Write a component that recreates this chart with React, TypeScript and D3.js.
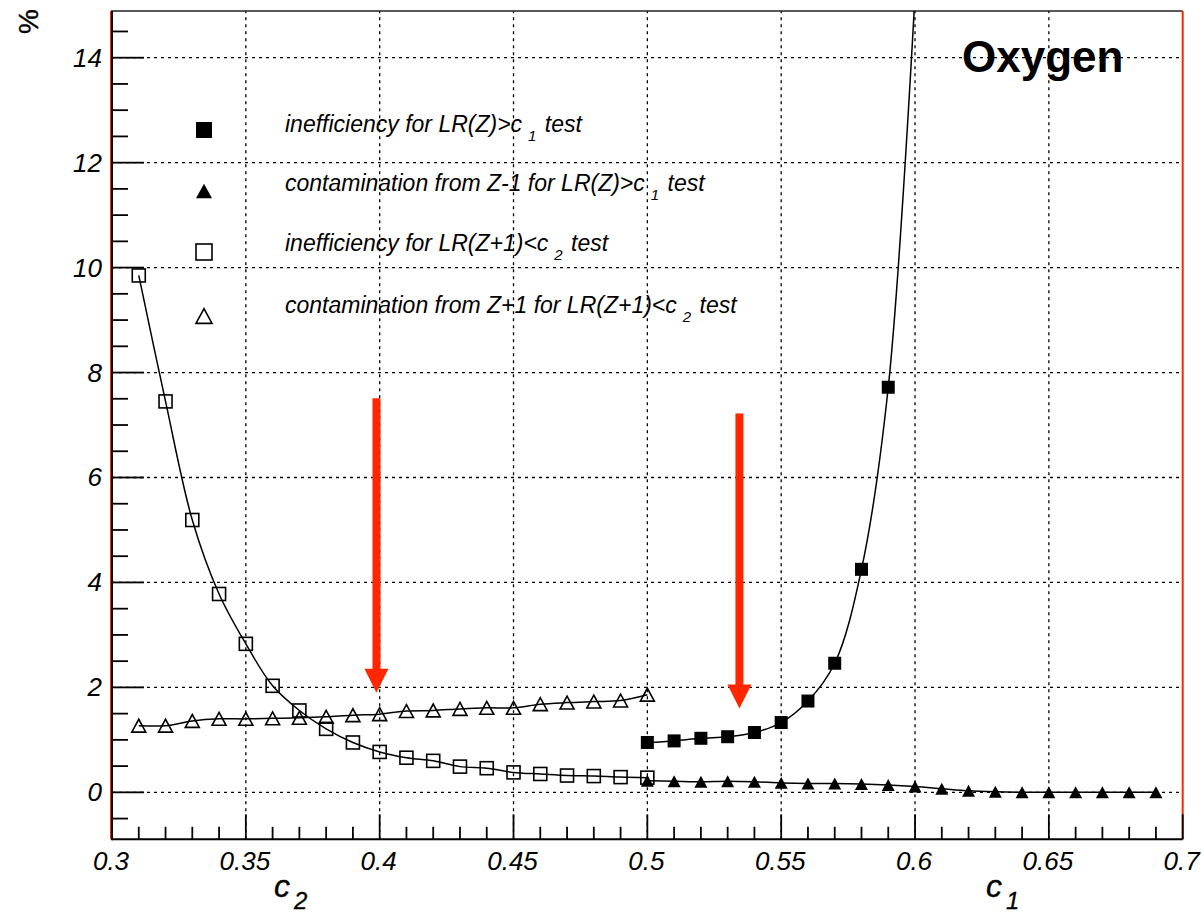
import React from "react";
import * as d3 from "d3";

// ---- data ----
const c2X = [0.31, 0.32, 0.33, 0.34, 0.35, 0.36, 0.37, 0.38, 0.39, 0.4, 0.41, 0.42, 0.43, 0.44, 0.45, 0.46, 0.47, 0.48, 0.49, 0.5];
const ineffC2 = [9.85, 7.45, 5.19, 3.78, 2.83, 2.03, 1.56, 1.21, 0.95, 0.77, 0.66, 0.6, 0.49, 0.46, 0.38, 0.35, 0.32, 0.31, 0.29, 0.28];
const contamC2 = [1.27, 1.27, 1.36, 1.4, 1.4, 1.41, 1.42, 1.44, 1.47, 1.49, 1.55, 1.56, 1.59, 1.61, 1.61, 1.68, 1.71, 1.73, 1.75, 1.86];

const c1IneffX = [0.5, 0.51, 0.52, 0.53, 0.54, 0.55, 0.56, 0.57, 0.58, 0.59, 0.6];
const ineffC1 = [0.95, 0.98, 1.03, 1.06, 1.14, 1.33, 1.74, 2.46, 4.25, 7.72, 15.2];

const c1ContX = [0.5, 0.51, 0.52, 0.53, 0.54, 0.55, 0.56, 0.57, 0.58, 0.59, 0.6, 0.61, 0.62, 0.63, 0.64, 0.65, 0.66, 0.67, 0.68, 0.69];
const contamC1 = [0.22, 0.21, 0.2, 0.21, 0.2, 0.18, 0.17, 0.17, 0.16, 0.14, 0.11, 0.07, 0.03, 0.01, 0, 0, 0, 0, 0, 0];

const xTicks = [0.3, 0.35, 0.4, 0.45, 0.5, 0.55, 0.6, 0.65, 0.7];
const xTickLabels = ["0.3", "0.35", "0.4", "0.45", "0.5", "0.55", "0.6", "0.65", "0.7"];
const yTicks = [0, 2, 4, 6, 8, 10, 12, 14];

const arrows = [
  { x: 0.3988, from: 7.51, to: 1.9 },
  { x: 0.5344, from: 7.22, to: 1.6 },
];

const legendItems = [
  { marker: "fsq", main: "inefficiency for LR(Z)>c", sub: "1" },
  { marker: "ftri", main: "contamination from Z-1 for LR(Z)>c", sub: "1" },
  { marker: "osq", main: "inefficiency for LR(Z+1)<c", sub: "2" },
  { marker: "otri", main: "contamination from Z+1 for LR(Z+1)<c", sub: "2" },
];

// ---- layout ----
const W = 1202, H = 915;
const L = 112, R = 1182.7, T = 11, B = 839.3;
const x = d3.scaleLinear().domain([0.3, 0.7]).range([L, R]);
const y = d3.scaleLinear().domain([-0.895, 14.89]).range([B, T]);

const FONT = "'Liberation Sans', Arial, Helvetica, sans-serif";
const RED = "#ff2600";

function Marker({ kind, cx, cy, s }: { kind: string; cx: number; cy: number; s: number }) {
  const h = s / 2;
  if (kind === "fsq") return <rect x={cx - h} y={cy - h} width={s} height={s} fill="#000" />;
  if (kind === "osq") return <rect x={cx - h} y={cy - h} width={s} height={s} fill="none" stroke="#000" strokeWidth={1.6} />;
  const th = s * 0.92;
  const pts = `${cx - h},${cy + th / 2} ${cx + h},${cy + th / 2} ${cx},${cy - th / 2}`;
  if (kind === "ftri") return <polygon points={pts} fill="#000" />;
  return <polygon points={pts} fill="none" stroke="#000" strokeWidth={1.6} strokeLinejoin="miter" />;
}

export default function App() {
  const line = d3
    .line<[number, number]>()
    .x((d) => x(d[0]))
    .y((d) => y(d[1]))
    .curve(d3.curveCatmullRom.alpha(0.5));

  const zip = (xs: number[], ys: number[]) => xs.map((v, i) => [v, ys[i]] as [number, number]);
  const sOpenSq = zip(c2X, ineffC2);
  const sOpenTri = zip(c2X, contamC2);
  const sFillSq = zip(c1IneffX, ineffC1);
  const sFillTri = zip(c1ContX, contamC1);
  const inRange = (d: [number, number]) => d[1] <= 14.89 && d[1] >= -0.895;

  const xMinor = d3.range(30, 71).map((v) => v / 100);
  const yMinor = d3.range(-1, 30).map((v) => v / 2).filter((v) => v >= -0.895 && v <= 14.89);

  const legendMarkerY = [130, 191, 252, 316];
  const legendTextY = [132, 191, 251, 313];

  return (
    <div style={{ position: "absolute", left: 0, top: 0 }}>
      <svg width={W} height={H} viewBox={`0 0 ${W} ${H}`} style={{ display: "block", background: "#fff" }}>
        <defs>
          <clipPath id="plot">
            <rect x={L} y={T} width={R - L} height={B - T} />
          </clipPath>
        </defs>
        <rect x={0} y={0} width={W} height={H} fill="#fff" />

        {/* grid */}
        <g stroke="#000" strokeWidth={1.3} strokeDasharray="3,4">
          {xTicks.slice(1, -1).map((t) => (
            <line key={"gx" + t} x1={x(t)} x2={x(t)} y1={B} y2={T} />
          ))}
          {yTicks.map((t) => (
            <line key={"gy" + t} x1={L} x2={R} y1={y(t)} y2={y(t)} />
          ))}
        </g>

        {/* frame */}
        <line x1={L - 1} x2={R} y1={T} y2={T} stroke="#222" strokeWidth={1.5} />
        <line x1={R} x2={R} y1={T} y2={B} stroke={RED} strokeWidth={2} />
        <line x1={L - 1.5} x2={L - 1.5} y1={T} y2={B} stroke={RED} strokeWidth={1} />
        <line x1={L} x2={L} y1={T} y2={B + 1} stroke="#000" strokeWidth={2} />
        <line x1={L} x2={R} y1={B} y2={B} stroke="#000" strokeWidth={2} />

        {/* ticks */}
        <g stroke="#000" strokeWidth={1.8}>
          {xMinor.map((t, i) => {
            const major = i % 5 === 0;
            return <line key={"tx" + i} x1={x(t)} x2={x(t)} y1={B} y2={B - (major ? 25 : 12.5)} />;
          })}
          {yMinor.map((t, i) => {
            const major = Math.abs(t % 2) < 1e-9;
            return <line key={"ty" + i} x1={L} x2={L + (major ? 32 : 16)} y1={y(t)} y2={y(t)} />;
          })}
        </g>

        {/* tick labels */}
        <g fontFamily={FONT} fontStyle="italic" fontSize={26} fill="#000">
          {xTicks.map((t, i) => (
            <text key={"lx" + t} x={x(t) - 1} y={870} textAnchor="middle">
              {xTickLabels[i]}
            </text>
          ))}
          {yTicks.map((t) => (
            <text key={"ly" + t} x={102} y={y(t) + 9} textAnchor="end">
              {t}
            </text>
          ))}
        </g>

        {/* axis titles */}
        <text transform="translate(38,9) rotate(-90)" textAnchor="end" fontFamily={FONT} fontSize={28} fill="#000" stroke="#000" strokeWidth={0.4}>
          %
        </text>
        <text x={x(0.3605)} y={897} fontFamily={FONT} fontStyle="italic" fontSize={32} fill="#000" stroke="#000" strokeWidth={0.3}>
          c
          <tspan fontSize={24} dx={4} dy={12}>2</tspan>
        </text>
        <text x={x(0.6265)} y={897} fontFamily={FONT} fontStyle="italic" fontSize={32} fill="#000" stroke="#000" strokeWidth={0.3}>
          c
          <tspan fontSize={24} dx={4} dy={12}>1</tspan>
        </text>

        {/* curves */}
        <g clipPath="url(#plot)" fill="none" stroke="#000" strokeWidth={1.5}>
          <path d={line(sOpenSq) || ""} />
          <path d={line(sOpenTri) || ""} />
          <path d={line(sFillSq) || ""} />
          <path d={line(sFillTri) || ""} />
        </g>

        {/* markers */}
        <g>
          {sOpenSq.filter(inRange).map((d, i) => (
            <Marker key={"os" + i} kind="osq" cx={x(d[0])} cy={y(d[1])} s={13} />
          ))}
          {sOpenTri.filter(inRange).map((d, i) => (
            <Marker key={"ot" + i} kind="otri" cx={x(d[0])} cy={y(d[1])} s={14} />
          ))}
          {sFillSq.filter(inRange).map((d, i) => (
            <Marker key={"fs" + i} kind="fsq" cx={x(d[0])} cy={y(d[1])} s={13} />
          ))}
          {sFillTri.filter(inRange).map((d, i) => (
            <Marker key={"ft" + i} kind="ftri" cx={x(d[0])} cy={y(d[1])} s={13} />
          ))}
        </g>

        {/* arrows */}
        <g fill={RED}>
          {arrows.map((a, i) => {
            const cx = x(a.x);
            const top = y(a.from);
            const tip = y(a.to);
            const headTop = tip - 24;
            return (
              <g key={"ar" + i}>
                <rect x={cx - 4} y={top} width={8} height={headTop - top + 1} />
                <polygon points={`${cx - 12},${headTop} ${cx + 12},${headTop} ${cx},${tip}`} />
              </g>
            );
          })}
        </g>

        {/* legend */}
        <g fontFamily={FONT} fontStyle="italic" fontSize={23} fill="#000">
          {legendItems.map((it, i) => (
            <g key={"lg" + i}>
              <Marker kind={it.marker} cx={204} cy={legendMarkerY[i]} s={16} />
              <text x={285} y={legendTextY[i]}>
                {it.main}
                <tspan fontSize={15} dx={6} dy={9}>{it.sub}</tspan>
                <tspan dx={2} dy={-9}>{" test"}</tspan>
              </text>
            </g>
          ))}
        </g>

        {/* title */}
        <text x={962} y={71.5} fontFamily={FONT} fontWeight="bold" fontSize={44} fill="#000">
          Oxygen
        </text>
      </svg>
    </div>
  );
}
